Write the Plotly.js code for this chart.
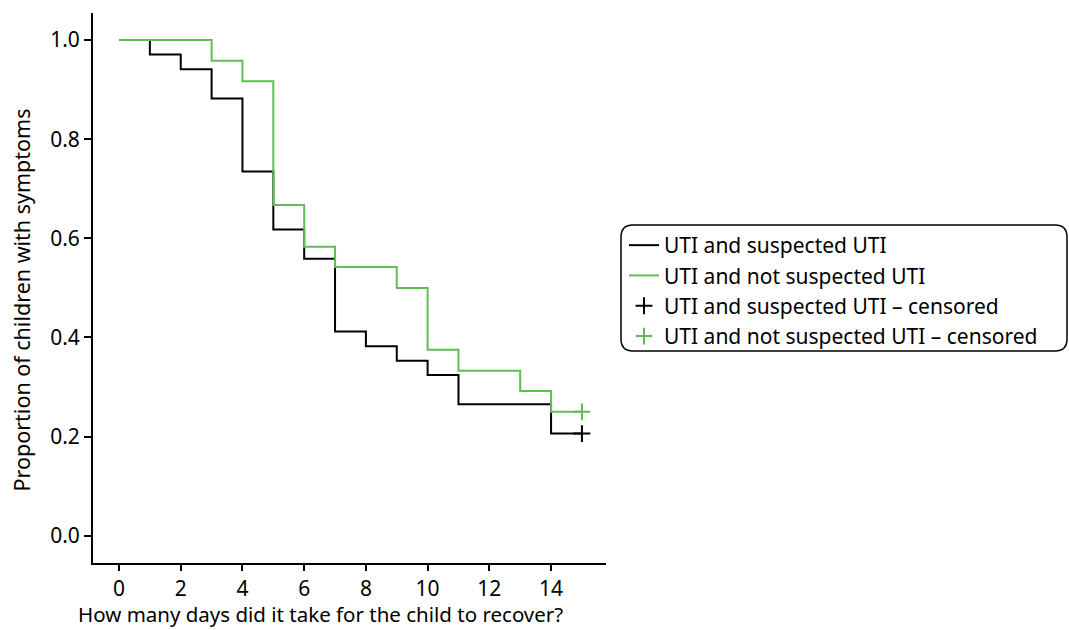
<!DOCTYPE html>
<html>
<head>
<meta charset="utf-8">
<script src="https://cdn.plot.ly/plotly-3.0.1.min.js"></script>
<style>html,body{margin:0;padding:0;background:#fff;}#chart{width:1069px;height:630px;}</style>
</head>
<body>
<div id="chart"></div>
<script>
// Kaplan–Meier step data
const daysSuspected = [0, 1, 2, 3, 4, 5, 6, 7, 8, 9, 10, 11, 14, 15];
const survSuspected = [1.0, 0.971, 0.941, 0.882, 0.735, 0.618, 0.559, 0.412, 0.382, 0.353, 0.324, 0.265, 0.206, 0.206];
const daysNotSuspected = [0, 3, 4, 5, 6, 7, 9, 10, 11, 13, 14, 15];
const survNotSuspected = [1.0, 0.958, 0.917, 0.667, 0.583, 0.542, 0.5, 0.375, 0.333, 0.292, 0.25, 0.25];
const censorSuspectedX = [15];
const censorSuspectedY = [0.206];
const censorNotSuspectedX = [15];
const censorNotSuspectedY = [0.25];
const seriesNames = ["UTI and suspected UTI", "UTI and not suspected UTI",
  "UTI and suspected UTI \u2013 censored", "UTI and not suspected UTI \u2013 censored"];
const xTicks = [0, 2, 4, 6, 8, 10, 12, 14];
const yTicks = [0.0, 0.2, 0.4, 0.6, 0.8, 1.0];

const BLACK = "#000000";
const GREEN = "#5ebe52";
const FONT = "Noto Sans, Open Sans, sans-serif";

const traces = [
  {x: daysSuspected, y: survSuspected, mode: "lines", line: {shape: "hv", color: BLACK, width: 2}, name: seriesNames[0]},
  {x: daysNotSuspected, y: survNotSuspected, mode: "lines", line: {shape: "hv", color: GREEN, width: 2}, name: seriesNames[1]},
  {x: censorSuspectedX, y: censorSuspectedY, mode: "markers", marker: {symbol: "cross-thin", size: 12, line: {color: BLACK, width: 2}}, name: seriesNames[2]},
  {x: censorNotSuspectedX, y: censorNotSuspectedY, mode: "markers", marker: {symbol: "cross-thin", size: 12, line: {color: GREEN, width: 2}}, name: seriesNames[3]}
];

const L = 93, R = 1069 - 606, T = 13, B = 630 - 563;
const pw = 1069 - L - R, ph = 630 - T - B;
function px(xPix) { return (xPix - L) / pw; }
function py(yPix) { return (630 - B - yPix) / ph; }

const bx0 = px(621), bx1 = px(1067), by0 = py(351), by1 = py(225);
const rx = 12 / pw, ry = 12 / ph;
const boxPath = `M ${bx0 + rx},${by1} L ${bx1 - rx},${by1} Q ${bx1},${by1} ${bx1},${by1 - ry} ` +
  `L ${bx1},${by0 + ry} Q ${bx1},${by0} ${bx1 - rx},${by0} L ${bx0 + rx},${by0} ` +
  `Q ${bx0},${by0} ${bx0},${by0 + ry} L ${bx0},${by1 - ry} Q ${bx0},${by1} ${bx0 + rx},${by1} Z`;

const layout = {
  width: 1069, height: 630,
  margin: {l: L, r: R, t: T, b: B, pad: 0},
  paper_bgcolor: "#fff", plot_bgcolor: "#fff",
  font: {family: FONT, size: 21, color: "#000"},
  showlegend: true,
  legend: {x: px(624), y: py(225), xanchor: "left", yanchor: "top", bgcolor: "rgba(0,0,0,0)",
    borderwidth: 0, font: {family: FONT, size: 21, color: "#000"}, traceorder: "normal",
    itemwidth: 30, tracegroupgap: 0},
  xaxis: {range: [-0.843, 15.78], tickvals: xTicks, ticktext: xTicks.map(String),
    showgrid: false, zeroline: false, showline: true, linecolor: "#000", linewidth: 2,
    ticks: "outside", ticklen: 6, tickwidth: 2, tickcolor: "#000",
    tickfont: {family: FONT, size: 21}},
  yaxis: {range: [-0.055, 1.0545], tickvals: yTicks, ticktext: yTicks.map(v => v.toFixed(1)),
    showgrid: false, zeroline: false, showline: true, linecolor: "#000", linewidth: 2,
    ticks: "outside", ticklen: 7, tickwidth: 2, tickcolor: "#000",
    tickfont: {family: FONT, size: 21}},
  shapes: [{type: "path", xref: "paper", yref: "paper", path: boxPath,
    line: {color: "#000", width: 1.5}, fillcolor: "rgba(0,0,0,0)"}],
  annotations: [
    {text: "How many days did it take for the child to recover?", xref: "paper", yref: "paper",
      x: px(320), y: py(630), xanchor: "center", yanchor: "bottom", showarrow: false,
      font: {family: FONT, size: 20.5}},
    {text: "Proportion of children with symptoms", xref: "paper", yref: "paper",
      x: px(5), y: py(300), xanchor: "left", yanchor: "middle", textangle: -90, showarrow: false,
      font: {family: FONT, size: 21.5}}
  ]
};

Plotly.newPlot("chart", traces, layout, {displayModeBar: false, staticPlot: true});
</script>
</body>
</html>
